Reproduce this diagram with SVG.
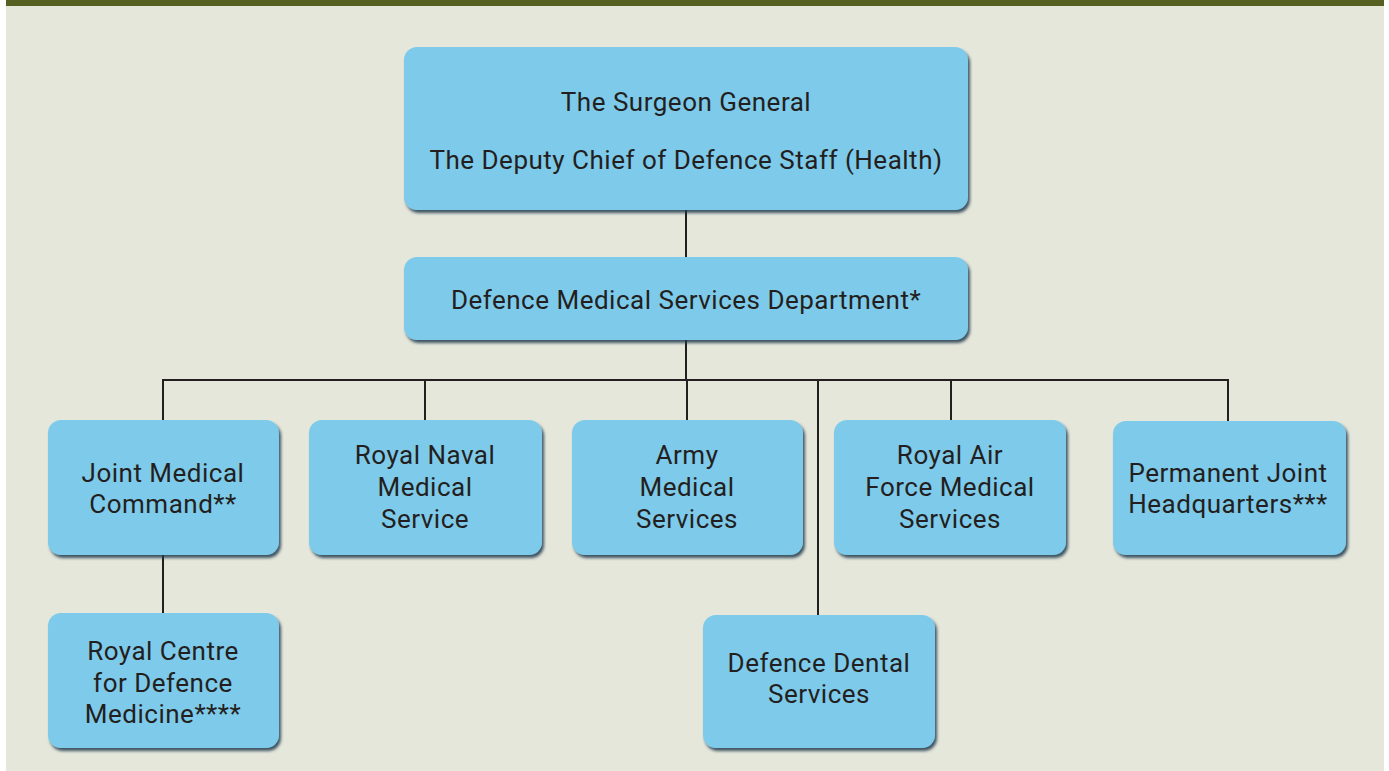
<svg xmlns="http://www.w3.org/2000/svg" width="1389" height="771" viewBox="0 0 1389 771">
  <style>
    .box { fill: #7ecaea; filter: url(#shadow); }
    .lbl { font-family: Roboto, "Liberation Sans", sans-serif; font-size: 26px; letter-spacing: 0.5px; fill: #231f20; text-anchor: middle; }
    .link { stroke: #231f20; stroke-width: 2; fill: none; }
  </style>
  <defs>
    <filter id="shadow" x="-10%" y="-10%" width="120%" height="130%">
      <feDropShadow dx="2" dy="3" stdDeviation="1.6" flood-color="#1d3a4e" flood-opacity="0.85"/>
    </filter>
  </defs>

  <!-- page -->
  <rect x="0" y="0" width="1389" height="771" fill="#ffffff"/>
  <rect x="6" y="0" width="1378" height="771" fill="#e6e7db"/>
  <rect x="6" y="0" width="1378" height="6" fill="#566021"/>

  <!-- connectors -->
  <g id="connectors">
    <line class="link" x1="686" y1="210" x2="686" y2="258"/>
    <line class="link" x1="686" y1="340" x2="686" y2="380"/>
    <line class="link" x1="163" y1="380" x2="1229" y2="380"/>
    <line class="link" x1="163" y1="379" x2="163" y2="421"/>
    <line class="link" x1="425" y1="379" x2="425" y2="421"/>
    <line class="link" x1="687" y1="379" x2="687" y2="421"/>
    <line class="link" x1="818" y1="379" x2="818" y2="616"/>
    <line class="link" x1="951" y1="379" x2="951" y2="421"/>
    <line class="link" x1="1228" y1="379" x2="1228" y2="421"/>
    <line class="link" x1="163" y1="555" x2="163" y2="614"/>
  </g>

  <g id="surgeon-general">
    <rect class="box" x="404" y="47" width="564" height="163" rx="13"/>
    <text class="lbl" x="686" y="111">The Surgeon General</text>
    <text class="lbl" x="686" y="169">The Deputy Chief of Defence Staff (Health)</text>
  </g>

  <g id="dmsd">
    <rect class="box" x="404" y="257" width="564" height="83" rx="13"/>
    <text class="lbl" x="686" y="309">Defence Medical Services Department*</text>
  </g>

  <g id="joint-medical-command">
    <rect class="box" x="48" y="420" width="231" height="135" rx="13"/>
    <text class="lbl" x="163" y="482">Joint Medical</text>
    <text class="lbl" x="163" y="513">Command**</text>
  </g>

  <g id="royal-naval">
    <rect class="box" x="309" y="420" width="233" height="135" rx="13"/>
    <text class="lbl" x="425" y="464">Royal Naval</text>
    <text class="lbl" x="425" y="496">Medical</text>
    <text class="lbl" x="425" y="528">Service</text>
  </g>

  <g id="army">
    <rect class="box" x="572" y="420" width="231" height="135" rx="13"/>
    <text class="lbl" x="687" y="464">Army</text>
    <text class="lbl" x="687" y="496">Medical</text>
    <text class="lbl" x="687" y="528">Services</text>
  </g>

  <g id="raf">
    <rect class="box" x="834" y="420" width="232" height="135" rx="13"/>
    <text class="lbl" x="950" y="464">Royal Air</text>
    <text class="lbl" x="950" y="496">Force Medical</text>
    <text class="lbl" x="950" y="528">Services</text>
  </g>

  <g id="pjhq">
    <rect class="box" x="1113" y="421" width="233" height="134" rx="13"/>
    <text class="lbl" x="1228" y="482">Permanent Joint</text>
    <text class="lbl" x="1228" y="513">Headquarters***</text>
  </g>

  <g id="rcdm">
    <rect class="box" x="48" y="613" width="231" height="135" rx="13"/>
    <text class="lbl" x="163" y="660">Royal Centre</text>
    <text class="lbl" x="163" y="692">for Defence</text>
    <text class="lbl" x="163" y="723">Medicine****</text>
  </g>

  <g id="dental">
    <rect class="box" x="703" y="615" width="232" height="133" rx="13"/>
    <text class="lbl" x="819" y="672">Defence Dental</text>
    <text class="lbl" x="819" y="703">Services</text>
  </g>
</svg>
